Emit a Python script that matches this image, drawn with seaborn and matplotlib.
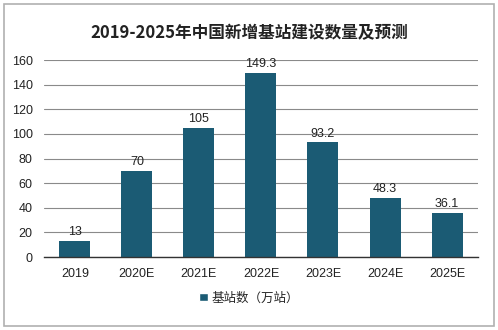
import matplotlib
matplotlib.use("Agg")
import matplotlib.pyplot as plt
import seaborn as sns
import pandas as pd
from matplotlib.patches import Rectangle

categories = ["2019", "2020E", "2021E", "2022E", "2023E", "2024E", "2025E"]
values = [13, 70, 105, 149.3, 93.2, 48.3, 36.1]
value_labels = ["13", "70", "105", "149.3", "93.2", "48.3", "36.1"]
series_name = "基站数（万站）"
title = "2019-2025年中国新增基站建设数量及预测"
yticks = [0, 20, 40, 60, 80, 100, 120, 140, 160]

sns.set_theme(style="white")
plt.rcParams['font.family'] = ['Noto Sans CJK SC', 'DejaVu Sans']

df = pd.DataFrame({"year": categories, "value": values, "series": series_name})
color = "#1B5B74"

fig = plt.figure(figsize=(4.98, 3.30), dpi=100)
ax = fig.add_axes([0.088, 0.221, 0.872, 0.597])
sns.barplot(data=df, x="year", y="value", hue="series", palette=[color],
            width=0.5, saturation=1, linewidth=0, ax=ax, legend=False)

ax.set_ylim(0, 160)
ax.set_yticks(yticks)
ax.set_xlim(-0.5, len(categories) - 0.5)
ax.yaxis.grid(True, color="#8a8a8a", linewidth=0.8)
ax.set_axisbelow(True)
for s in ["top", "right", "left"]:
    ax.spines[s].set_visible(False)
ax.spines["bottom"].set_color("#333333")
ax.spines["bottom"].set_linewidth(1.0)
ax.set_xlabel("")
ax.set_ylabel("")
ax.tick_params(axis="both", labelsize=9, colors="#222222", length=0, pad=8)
for lbl in ax.get_yticklabels():
    lbl.set_family(['Liberation Sans', 'DejaVu Sans'])
for lbl in ax.get_xticklabels():
    lbl.set_family(['Liberation Sans', 'DejaVu Sans'])

for i, (v, t) in enumerate(zip(values, value_labels)):
    ax.annotate(t, (i, v), xytext=(0, 2), textcoords="offset points",
                ha="center", va="bottom", fontsize=9, color="#222222",
                family=['Liberation Sans', 'DejaVu Sans'])

fig.text(0.5, 0.90, title, ha="center", va="center", fontsize=12,
         fontweight="bold", color="#222222")

handle = Rectangle((0, 0), 1, 1, facecolor=color)
fig.legend([handle], [series_name], loc="center", bbox_to_anchor=(0.5, 0.097),
           frameon=False, fontsize=9, handlelength=0.7, handleheight=0.7,
           handletextpad=0.3)

fig.patches.append(Rectangle((0.008, 0.012), 0.984, 0.976, transform=fig.transFigure,
                             fill=False, edgecolor="#b0b0b0", linewidth=1.2))

fig.savefig("out.png", dpi=100, facecolor="white")
